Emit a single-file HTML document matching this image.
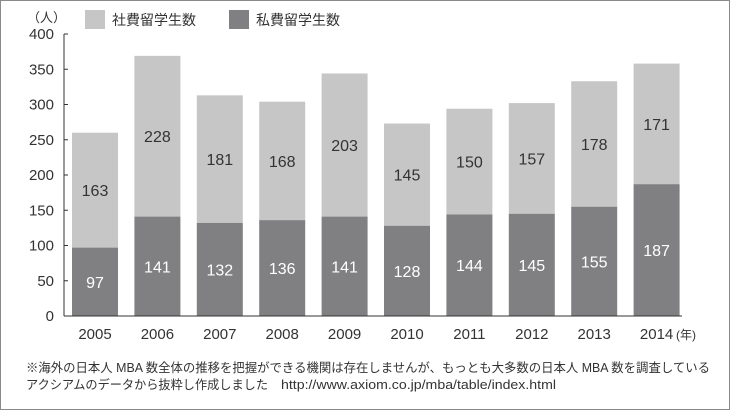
<!DOCTYPE html>
<html><head><meta charset="utf-8"><style>
body{margin:0;background:#fff}
svg{display:block;font-family:"Liberation Sans","Noto Sans CJK JP",sans-serif}
</style></head><body>
<svg width="730" height="410">
<rect x="0.5" y="0.5" width="729" height="409" fill="#fff" stroke="#8a8a8a"/>
<g id="g"></g>
<text x="27" y="22" font-size="13" fill="#333">（人）</text>
<rect x="85" y="10" width="20" height="19" fill="#c6c6c7"/>
<text x="112" y="25" font-size="14" fill="#333">社費留学生数</text>
<rect x="229" y="10" width="20" height="19" fill="#808083"/>
<text x="256" y="25" font-size="14" fill="#333">私費留学生数</text>
<text x="676" y="339" font-size="12" fill="#333">(年)</text>
<text x="26" y="372" font-size="12.5" fill="#333" textLength="684" lengthAdjust="spacingAndGlyphs">※海外の日本人 MBA 数全体の推移を把握ができる機関は存在しませんが、もっとも大多数の日本人 MBA 数を調査している</text>
<text x="26" y="389" font-size="12.5" fill="#333" textLength="242" lengthAdjust="spacingAndGlyphs">アクシアムのデータから抜粋し作成しました</text>
<text x="281" y="389" font-size="12.5" fill="#333" textLength="275" lengthAdjust="spacingAndGlyphs">http://www.axiom.co.jp/mba/table/index.html</text>
</svg>
<script>
const years=["2005","2006","2007","2008","2009","2010","2011","2012","2013","2014"];
const privateVals=[97,141,132,136,141,128,144,145,155,187];
const companyVals=[163,228,181,168,203,145,150,157,178,171];
const yTicks=[0,50,100,150,200,250,300,350,400];
const NS="http://www.w3.org/2000/svg",g=document.getElementById("g");
const y0=316,ppu=282/400,x0=72,step=62.4,bw=46;
const Y=v=>y0-v*ppu, X=i=>x0+i*step;
function mk(t,a,txt){const e=document.createElementNS(NS,t);for(const k in a)e.setAttribute(k,a[k]);if(txt!=null)e.textContent=txt;g.appendChild(e);return e;}
years.forEach((yr,i)=>{
 const p=privateVals[i],c=companyVals[i];
 let e=mk("rect",{x:X(i),y:Y(p+c),width:bw,height:c*ppu,fill:"#c6c6c7"});
 
 
 e=mk("rect",{x:X(i),y:Y(p),width:bw,height:p*ppu,fill:"#808083"});
 
 
 e=mk("text",{x:X(i)+bw/2,y:Y(p)+p*ppu/2+6,"text-anchor":"middle","font-size":"16",fill:"#fff"},p);
 
 
 e=mk("text",{x:X(i)+bw/2,y:Y(p+c)+c*ppu/2+6,"text-anchor":"middle","font-size":"16",fill:"#333"},c);
 
 
 e=mk("text",{x:X(i)+bw/2,y:339,"text-anchor":"middle","font-size":"15",fill:"#333"},yr);
 
 
});
yTicks.forEach(t=>{
 let e=mk("line",{x1:64,x2:68,y1:Y(t),y2:Y(t),stroke:"#333"});
 
 
 e=mk("text",{x:54,y:Y(t)+5,"text-anchor":"end","font-size":"15",fill:"#333"},t);
 
 
});
let a=mk("line",{x1:64,x2:64,y1:Y(400),y2:y0,stroke:"#333"});


a=mk("line",{x1:64,x2:682,y1:y0,y2:y0,stroke:"#333"});


</script>
</body></html>
